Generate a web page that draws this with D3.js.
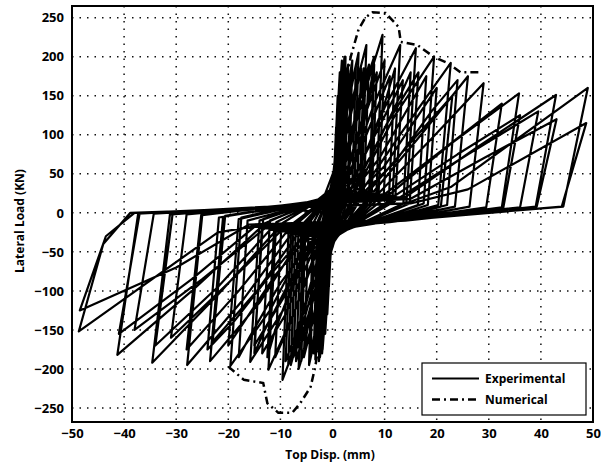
<!DOCTYPE html>
<html lang="en">
<head>
<meta charset="UTF-8">
<title>Lateral load vs top displacement</title>
<style>
    body { margin: 0; background: #fff; }
    svg { display: block; }
    .tick-label { font-family: "Open Sans", sans-serif; font-weight: 700; font-size: 13px; fill: #000; }
    .axis-title { font-family: "Open Sans", sans-serif; font-weight: 700; font-size: 12px; fill: #000; }
    .legend-text { font-family: "Open Sans", sans-serif; font-weight: 700; font-size: 12px; fill: #000; }
    .grid line { stroke: #111; stroke-width: 1.5; stroke-dasharray: 1.5, 6; }
</style>
</head>
<body>
<svg id="chart" width="601" height="468"></svg>
<script src="https://cdn.jsdelivr.net/npm/d3@7"></script>
<script>
    const xTicks = [-50, -40, -30, -20, -10, 0, 10, 20, 30, 40, 50];
    const yTicks = [250, 200, 150, 100, 50, 0, -50, -100, -150, -200, -250];
    const seriesNames = ["Experimental", "Numerical"];

    // experimental record, cycle by cycle, [top disp (mm), lateral load (kN)]
    const smallCycles = [
        [[0, 0], [0.2, 30], [0.4, 60], [0.3, 20], [0, -5], [-0.2, -25], [-0.4, -50], [-0.3, -15], [0, 5]],
        [[0.3, 50], [0.7, 110], [0.5, 30], [0, -10], [-0.3, -45], [-0.7, -95], [-0.5, -25], [0, 8]],
        [[0.4, 60], [1.0, 150], [0.8, 40], [0.2, -8], [-0.4, -55], [-1.0, -130], [-0.8, -30], [-0.2, 10]],
        [[0.5, 70], [1.4, 180], [1.1, 45], [0.3, -10], [-0.5, -60], [-1.4, -155], [-1.1, -35], [-0.3, 12]],
        [[0.6, 80], [1.8, 195], [1.4, 40], [0.4, -12], [-0.7, -70], [-1.9, -175], [-1.5, -40], [-0.4, 14]],
        [[0.7, 85], [2.3, 200], [1.8, 35], [0.5, -14], [-0.8, -75], [-2.4, -185], [-1.9, -40], [-0.5, 15]],
        [[0.8, 80], [3.0, 190], [2.4, 30], [0.6, -15], [-1.0, -80], [-3.3, -188], [-2.7, -35], [-0.6, 16]],
        [[1.0, 75], [3.5, 175], [2.9, 25], [0.8, -16], [-1.0, -70], [-3.0, -165], [-2.4, -30], [-0.6, 16]],
        [[0.5, 60], [1.5, 150], [2.0, 190], [1.7, 50], [0.8, 0], [-0.5, -50], [-1.5, -140], [-2.0, -180], [-1.7, -50], [-0.5, 10]],
        [[0.6, 70], [1.8, 170], [2.5, 200], [2.1, 45], [0.9, -5], [-0.7, -60], [-1.8, -150], [-2.6, -190], [-2.2, -45], [-0.6, 12]]
    ];

    // repeated cycles at the same amplitude, slightly wider loops
    const repeatCycles = [
        [[0.8, 70], [2.2, 170], [1.9, 60], [0.6, 0], [-0.4, -30], [-1.2, -100], [-2.2, -160], [-1.8, -50], [-0.6, 10]],
        [[1.0, 80], [2.8, 185], [2.3, 50], [1.0, -5], [-0.6, -40], [-2.0, -130], [-2.8, -175], [-2.3, -45], [-0.8, 15]],
        [[1.2, 90], [3.8, 195], [3.2, 40], [1.2, -10], [-0.8, -50], [-2.5, -140], [-3.6, -180], [-3.0, -40], [-1, 15]],
        [[1.5, 85], [4.5, 190], [3.8, 35], [1.5, -12], [-1.0, -55], [-3.0, -140], [-4.2, -180], [-3.5, -30], [-1.2, 15]],
        [[2.0, 80], [5.5, 185], [4.7, 30], [2, -14], [-1.5, -60], [-3.8, -140], [-5.5, -185], [-4.6, -25], [-1.5, 15]],
        [[2.5, 75], [7, 190], [6, 25], [2.5, -15], [-2, -60], [-5, -145], [-7, -190], [-6, -22], [-2, 15]],
        [[3, 60], [8.5, 180], [7.5, 20], [3, -16], [-2.5, -55], [-6.5, -150], [-8.5, -195], [-7.5, -18], [-2.5, 14]],
        [[3.5, 50], [11, 175], [9.8, 18], [3.5, -16], [-3, -50], [-8, -140], [-11, -185], [-9.8, -14], [-3, 14]],
        [[4, 45], [13.5, 170], [12, 15], [4, -16], [-3.5, -45], [-9, -130], [-13.5, -180], [-12, -10], [-3.5, 13]],
        [[1.5, 40], [4, 100], [5.5, 160], [6, 185], [5.2, 25], [2, -15], [-1.5, -45], [-4, -120], [-5.5, -175], [-6, -190], [-5.2, -20], [-1.5, 15]],
        [[2, 30], [5, 80], [7, 150], [8, 190], [7.2, 20], [3, -14], [-2, -40], [-5, -110], [-7, -170], [-8, -195], [-7, -15], [-2, 14]]
    ];

    const midCycles = [
        [[1.2, 70], [3.2, 150], [5.0, 205], [4.2, 25], [1.2, -18], [-1.2, -70], [-3.0, -150], [-4.5, -195], [-3.8, -25], [-1, 17]],
        [[1.5, 65], [4.0, 150], [6.5, 215], [5.6, 22], [1.5, -18], [-1.5, -65], [-4.2, -150], [-6.5, -200], [-5.6, -22], [-1.2, 17]],
        [[1.8, 55], [5.0, 140], [8.0, 200], [7.0, 20], [2, -18], [-1.8, -60], [-5, -140], [-7.5, -185], [-6.5, -20], [-1.5, 16]],
        [[2.0, 55], [6.0, 150], [9.6, 228], [8.4, 20], [2.5, -18], [-2, -55], [-6, -150], [-9.6, -214], [-8.4, -18], [-2, 15]],
        [[2.5, 45], [6.5, 130], [10.0, 195], [8.8, 18], [3, -18], [-2.5, -50], [-6, -135], [-9, -190], [-7.9, -15], [-2, 15]],
        [[3, 45], [8, 140], [13, 215], [11.5, 16], [4, -17], [-3, -45], [-7.5, -130], [-12.3, -201], [-10.8, -12], [-3, 14]],
        [[4, 40], [10, 135], [16, 211], [14.2, 14], [5, -16], [-4, -40], [-9.5, -125], [-15.8, -191], [-14, -10], [-3.5, 14]],
        [[4.5, 35], [10.5, 115], [16.5, 180], [14.8, 12], [5, -16], [-4.5, -38], [-9.5, -110], [-15, -170], [-13.3, -8], [-4, 13]],
        [[5, 35], [12, 125], [19.5, 200], [17.5, 12], [6, -15], [-5, -35], [-12, -125], [-19.6, -196], [-17.5, -6], [-5, 13]],
        [[2, 20], [6, 70], [10, 140], [12, 185], [10.8, 15], [5, -10], [-2, -25], [-7, -80], [-11, -150], [-12.5, -185], [-11.2, -20], [-4, 10]],
        [[3, 25], [8, 80], [13, 150], [15, 180], [13.6, 12], [6, -12], [-3, -30], [-8, -85], [-13, -150], [-15, -180], [-13.5, -15], [-5, 10]],
        [[3, 20], [9, 70], [15, 140], [18, 175], [16.4, 10], [7, -12], [-3, -28], [-10, -90], [-16, -160], [-18, -185], [-16.3, -10], [-5, 10]],
        [[4, 20], [10, 60], [16, 120], [20, 160], [18.3, 10], [8, -12], [-4, -25], [-11, -80], [-17, -140], [-20, -170], [-18, -8], [-6, 10]],
        [[5, 20], [12, 65], [19, 130], [24, 170], [22, 10], [9, -12], [-5, -25], [-12, -80], [-19, -140], [-24, -175], [-21.8, -6], [-7, 10]]
    ];

    const largeCycles = [
        [[6, 32], [14, 110], [22.7, 192], [20.3, 10], [7, -14], [-6, -32], [-14, -115], [-23.5, -190], [-21, -5], [-6, 12]],
        [[7, 28], [15, 90], [23, 150], [20.8, 8], [8, -14], [-7, -30], [-14.5, -100], [-23, -165], [-20.6, -4], [-7, 11]],
        [[8, 28], [17, 100], [26, 175], [23.5, 8], [8, -13], [-8, -28], [-17, -110], [-27.9, -195], [-25, -3], [-8, 11]],
        [[9, 26], [19, 95], [29, 166], [26.3, 8], [9, -13], [-9, -26], [-18, -100], [-28, -175], [-25.2, -3], [-8, 10]],
        [[10, 24], [21, 80], [32.5, 140], [29.5, 7], [10, -12], [-10, -24], [-20, -90], [-31, -160], [-28, -2], [-9, 10]],
        [[11, 24], [23, 90], [35.8, 153], [32.5, 7], [11, -12], [-11, -24], [-22, -105], [-34.6, -192], [-31.2, -2], [-10, 9]],
        [[12, 22], [24, 75], [36, 125], [32.8, 7], [12, -11], [-12, -22], [-22, -95], [-34, -170], [-30.7, -2], [-10, 9]],
        [[13, 20], [26, 75], [39.5, 130], [36, 7], [13, -10], [-13, -20], [-25, -85], [-38, -150], [-34.3, -1], [-11, 8]],
        [[14, 20], [28, 85], [42.9, 151], [39, 8], [14, -10], [-14, -20], [-27, -100], [-41.3, -182], [-37.3, -1], [-12, 8]],
        [[15, 18], [29, 70], [43, 120], [39.2, 8], [15, -9], [-15, -18], [-27, -85], [-41, -155], [-37, 0], [-12, 7]],
        [[14, 12], [22.7, 33], [49, 160], [44.3, 8], [16, -8], [-12, -14], [-22, -25], [-48.7, -152], [-44, -40], [-38.8, 0], [-12, 6]],
        [[15, 12], [26, 30], [48.7, 115], [44, 8], [16, -8], [-16, -15], [-30, -70], [-48.5, -125], [-43.5, -30], [-38, 0], [-10, 5], [0, 0]]
    ];

    // numerical envelope
    const numDisp = [-20, -17, -13.3, -12.5, -10.4, -7.7, -6.2, -4.2, -3.3, -2.2, -1, 0, 0.8, 1.5, 2.5, 3.5, 5, 6.3, 7.7, 10.2, 12.7, 13.1, 16.3, 19.4, 22.1, 24.6, 28];
    const numLoad = [-197, -214, -218, -244, -256, -256, -244, -223, -197, -150, -80, 0, 60, 119, 165, 200, 235, 250, 257, 256, 238, 219, 215, 200, 192, 180, 180];

    const W = 601, H = 468;
    const margin = {left: 72, right: 8, top: 6, bottom: 46};

    const svg = d3.select("#chart");

    const x = d3.scaleLinear().domain([-50, 50]).range([margin.left, W - margin.right]);
    const y = d3.scaleLinear().domain([-268, 265]).range([H - margin.bottom, margin.top]);

    svg.append("defs").append("clipPath")
        .attr("id", "plot-clip")
        .append("rect")
        .attr("x", margin.left)
        .attr("y", margin.top)
        .attr("width", W - margin.left - margin.right)
        .attr("height", H - margin.top - margin.bottom);

    // dotted grid
    const grid = svg.append("g").attr("class", "grid");
    grid.selectAll(".gx")
        .data(xTicks.slice(1, -1))
        .join("line")
        .attr("class", "gx")
        .attr("x1", d => x(d)).attr("x2", d => x(d))
        .attr("y1", margin.top).attr("y2", H - margin.bottom);
    grid.selectAll(".gy")
        .data(yTicks)
        .join("line")
        .attr("class", "gy")
        .attr("x1", margin.left).attr("x2", W - margin.right)
        .attr("y1", d => y(d)).attr("y2", d => y(d));

    const line = d3.line().x(d => x(d[0])).y(d => y(d[1]));
    const expPoints = [].concat(...smallCycles, ...repeatCycles, ...midCycles, ...largeCycles);

    const plot = svg.append("g").attr("clip-path", "url(#plot-clip)");

    plot.append("path")
        .datum(expPoints)
        .attr("d", line)
        .attr("fill", "none")
        .attr("stroke", "#000")
        .attr("stroke-width", 2.2)
        .attr("stroke-linejoin", "round");

    plot.append("path")
        .datum(numDisp.map((d, i) => [d, numLoad[i]]))
        .attr("d", line)
        .attr("fill", "none")
        .attr("stroke", "#000")
        .attr("stroke-width", 2.5)
        .attr("stroke-dasharray", "8,4,2,4");

    // frame
    svg.append("rect")
        .attr("x", margin.left)
        .attr("y", margin.top)
        .attr("width", W - margin.left - margin.right)
        .attr("height", H - margin.top - margin.bottom)
        .attr("fill", "none")
        .attr("stroke", "#000")
        .attr("stroke-width", 2);

    // axes
    const xAxis = svg.append("g")
        .attr("transform", `translate(0,${H - margin.bottom})`)
        .call(d3.axisBottom(x).tickValues(xTicks).tickSize(0).tickPadding(7));
    const yAxis = svg.append("g")
        .attr("transform", `translate(${margin.left},0)`)
        .call(d3.axisLeft(y).tickValues(yTicks).tickSize(0).tickPadding(8));
    [xAxis, yAxis].forEach(g => {
        g.select(".domain").remove();
        g.selectAll("text")
            .attr("class", "tick-label")
            .attr("font-family", null)
            .attr("font-size", null);
    });

    svg.append("text")
        .attr("class", "axis-title")
        .attr("x", 330)
        .attr("y", 459)
        .attr("text-anchor", "middle")
        .text("Top Disp. (mm)");

    svg.append("text")
        .attr("class", "axis-title")
        .attr("transform", "translate(24,221) rotate(-90)")
        .attr("text-anchor", "middle")
        .text("Lateral Load (KN)");

    // legend
    const legend = svg.append("g");
    legend.append("rect")
        .attr("x", 422).attr("y", 363)
        .attr("width", 164).attr("height", 52)
        .attr("fill", "#fff")
        .attr("stroke", "#000")
        .attr("stroke-width", 1.2);

    seriesNames.forEach((name, i) => {
        const ly = 378.5 + i * 21;
        legend.append("line")
            .attr("x1", 432).attr("x2", 479)
            .attr("y1", ly).attr("y2", ly)
            .attr("stroke", "#000")
            .attr("stroke-width", i === 0 ? 2 : 2.5)
            .attr("stroke-dasharray", i === 0 ? null : "8,4,2,4");
        legend.append("text")
            .attr("class", "legend-text")
            .attr("x", 485)
            .attr("y", ly)
            .attr("dy", "0.35em")
            .text(name);
    });
</script>
</body>
</html>
